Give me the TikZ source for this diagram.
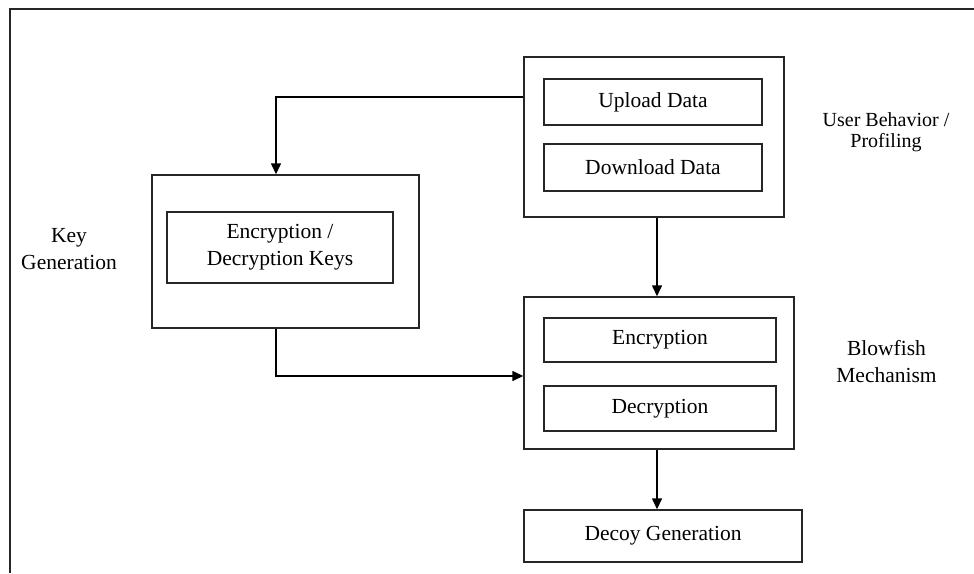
\documentclass[tikz,border=0pt]{standalone}
\usepackage{fontspec}
\setmainfont{Liberation Serif}
\usetikzlibrary{arrows.meta,calc}
\begin{document}
\begin{tikzpicture}[x=1pt,y=-1pt,
  box/.style={draw=black!85,line width=1.4pt,rectangle,inner sep=0pt,align=center,
    font=\fontsize{21.5}{27}\selectfont},
  lbl/.style={align=center,inner sep=0pt,font=\fontsize{21.5}{27}\selectfont},
  conn/.style={draw=black,line width=1.4pt,-{Triangle[length=11pt,width=10pt]}},
  plain/.style={draw=black,line width=1.4pt}]
\useasboundingbox (0,0) rectangle (974,573);
% frame
\draw[line width=2pt,black!85] (9.5,573) -- (9.5,8.5) -- (974,8.5);
% user behaviour group
\node[box,minimum width=260pt,minimum height=160pt] (ub) at (654,137) {};
\node[box,minimum width=218pt,minimum height=46pt] (up) at (653,102) {Upload Data};
\node[box,minimum width=218pt,minimum height=47pt] (down) at (653,167.5) {Download Data};
\node[lbl,font=\fontsize{20}{21}\selectfont] (ubl) at (886,132) {User Behavior /\\Profiling};
% key generation
\node[box,minimum width=267pt,minimum height=153pt] (kg) at (285.5,251.5) {};
\node[box,minimum width=226pt,minimum height=71pt] (keys) at (280,247.5) {Encryption /\\Decryption Keys};
\node[lbl] (kgl) at (69,249) {Key\\Generation};
% blowfish
\node[box,minimum width=270pt,minimum height=152pt] (bf) at (659,373) {};
\node[box,minimum width=232pt,minimum height=44pt] (enc) at (660,340) {Encryption};
\node[box,minimum width=232pt,minimum height=45pt] (dec) at (660,408.5) {Decryption};
\node[lbl] (bfl) at (886.5,362) {Blowfish\\Mechanism};
% decoy
\node[box,minimum width=278pt,minimum height=52pt] (decoy) at (663,536) {Decoy Generation};
% connectors
\coordinate (c1) at (276,97);
\coordinate (c2) at (276,376);
\draw[conn] (ub.west |- c1) -- (c1) -- (kg.north -| c1);
\draw[conn] (kg.south -| c2) -- (c2) -- (bf.west |- c2);
\draw[conn] ($(ub.south)+(3,0)$) -- ($(bf.north)+(-2,0)$);
\draw[conn] ($(bf.south)+(-2,0)$) -- ($(decoy.north)+(-6,0)$);
\end{tikzpicture}
\end{document}
